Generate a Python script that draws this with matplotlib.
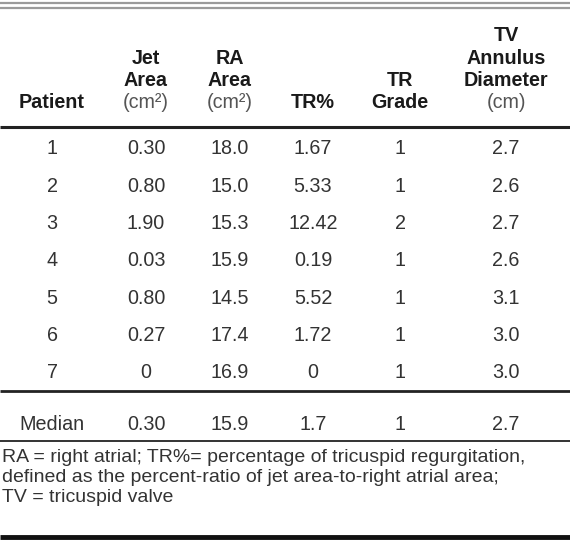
import matplotlib
matplotlib.use("Agg")
import matplotlib.pyplot as plt

plt.rcParams["font.family"] = ["Liberation Sans", "DejaVu Sans"]

# table content
headers = [["Patient"], ["Jet", "Area", "(cm²)"], ["RA", "Area", "(cm²)"],
           ["TR%"], ["TR", "Grade"], ["TV", "Annulus", "Diameter", "(cm)"]]
unit_lines = {"(cm²)", "(cm)"}
patients = ["1", "2", "3", "4", "5", "6", "7"]
jet_area = ["0.30", "0.80", "1.90", "0.03", "0.80", "0.27", "0"]
ra_area = ["18.0", "15.0", "15.3", "15.9", "14.5", "17.4", "16.9"]
tr_pct = ["1.67", "5.33", "12.42", "0.19", "5.52", "1.72", "0"]
tr_grade = ["1", "1", "2", "1", "1", "1", "1"]
tv_diam = ["2.7", "2.6", "2.7", "2.6", "3.1", "3.0", "3.0"]
median_row = ["Median", "0.30", "15.9", "1.7", "1", "2.7"]
footnote = ["RA = right atrial; TR%= percentage of tricuspid regurgitation,",
            "defined as the percent-ratio of jet area-to-right atrial area;",
            "TV = tricuspid valve"]

W, H = 570, 543
fig = plt.figure(figsize=(W / 100, H / 100), dpi=100)
ax = fig.add_axes([0, 0, 1, 1])
ax.set_xlim(0, W)
ax.set_ylim(H, 0)
ax.axis("off")

col_x = [52, 146, 230, 313, 400, 506]
fs = 14.2
txt = "#333333"

# rules
ax.hlines([3, 8], 0, W, color="#9a9a9a", lw=1.6)
ax.hlines(127, 0, W, color="#222222", lw=2.2)
ax.hlines(391, 0, W, color="#222222", lw=2.0)
ax.hlines(441, 0, W, color="#333333", lw=1.4)
ax.hlines(537, 0, W, color="#111111", lw=3.5)

# header, bottom aligned
line_h = 22.5
for x, lines in zip(col_x, headers):
    for i, s in enumerate(reversed(lines)):
        y = 103 - i * line_h
        unit = s in unit_lines
        ax.text(x, y, s, ha="center", va="center", fontsize=fs,
                fontweight="normal" if unit else "bold",
                color="#555555" if unit else "#1a1a1a")

# body
row_y0, row_dy = 149, 37.3
cols = [patients, jet_area, ra_area, tr_pct, tr_grade, tv_diam]
for j, col in enumerate(cols):
    for i, v in enumerate(col):
        ax.text(col_x[j], row_y0 + i * row_dy, v, ha="center", va="center",
                fontsize=fs, color=txt)

for x, v in zip(col_x, median_row):
    ax.text(x, 425, v, ha="center", va="center", fontsize=fs, color=txt)

for i, s in enumerate(footnote):
    ax.text(2, 458 + i * 19.5, s, ha="left", va="center", fontsize=14, color=txt)

fig.savefig("out.png", dpi=100, facecolor="white")
